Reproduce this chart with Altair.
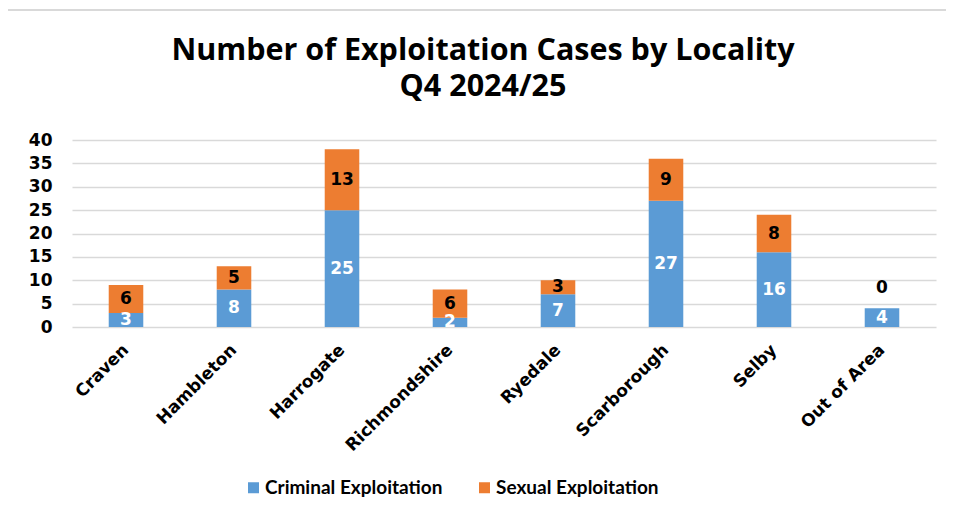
import altair as alt
import pandas as pd

localities = ["Craven", "Hambleton", "Harrogate", "Richmondshire", "Ryedale",
              "Scarborough", "Selby", "Out of Area"]
series_names = ["Criminal Exploitation", "Sexual Exploitation"]
criminal = [3, 8, 25, 2, 7, 27, 16, 4]
sexual = [6, 5, 13, 6, 3, 9, 8, 0]
colors = ["#5B9BD5", "#ED7D31"]
y_ticks = [0, 5, 10, 15, 20, 25, 30, 35, 40]

rows = []
for i, loc in enumerate(localities):
    rows.append({"locality": loc, "series": series_names[0], "value": criminal[i], "ord": 0})
    rows.append({"locality": loc, "series": series_names[1], "value": sexual[i], "ord": 1})
df = pd.DataFrame(rows)

x_axis = alt.Axis(labelAngle=-45, labelAlign="right", labelBaseline="middle",
                  labelFont="DejaVu Sans", labelFontWeight="bold", labelFontSize=17,
                  labelColor="#000000", labelPadding=20, ticks=False, domain=False,
                  labelOverlap=False, title=None)
y_axis = alt.Axis(values=y_ticks, labelFont="DejaVu Sans",
                  labelFontWeight="bold", labelFontSize=17, labelColor="#000000",
                  labelPadding=20, ticks=False, domain=False, labelOverlap=False,
                  gridColor="#d9d9d9", gridWidth=1.5, title=None)
x_scale = alt.Scale(paddingInner=0.68, paddingOuter=0.34)
y_scale = alt.Scale(domain=[0, 40])

bars = alt.Chart(df).mark_bar().encode(
    x=alt.X("locality:N", sort=localities, scale=x_scale, axis=x_axis),
    y=alt.Y("value:Q", stack="zero", scale=y_scale, axis=y_axis),
    color=alt.Color("series:N", scale=alt.Scale(domain=series_names, range=colors),
                    legend=alt.Legend(title=None, orient="none", direction="horizontal",
                                      legendX=172, legendY=338, symbolType="square",
                                      symbolSize=121, symbolStrokeWidth=0, labelFont="Lato",
                                      labelFontWeight="bold", labelFontSize=19,
                                      labelColor="#000000", columnPadding=32, labelOffset=2,
                                      labelLimit=300)),
    order=alt.Order("ord:Q", sort="ascending"),
)

stacked = alt.Chart(df).transform_stack(
    stack="value", groupby=["locality"], as_=["v0", "v1"],
    sort=[alt.SortField("ord", order="ascending")]
).transform_calculate(mid="(datum.v0 + datum.v1) / 2")

labels = stacked.transform_filter("datum.value > 0").mark_text(
    font="DejaVu Sans", fontWeight="bold", fontSize=17, baseline="middle"
).encode(
    x=alt.X("locality:N", sort=localities, scale=x_scale, axis=x_axis),
    y=alt.Y("mid:Q", scale=y_scale, axis=y_axis),
    text="value:Q",
    color=alt.condition("datum.ord == 0", alt.value("#ffffff"), alt.value("#000000")),
)

zero_labels = stacked.transform_filter("datum.value == 0").mark_text(
    font="DejaVu Sans", fontWeight="bold", fontSize=17, baseline="middle", dy=-20, color="#000000"
).encode(
    x=alt.X("locality:N", sort=localities, scale=x_scale, axis=x_axis),
    y=alt.Y("mid:Q", scale=y_scale, axis=y_axis),
    text="value:Q",
)

frame = alt.Chart(alt.Data(values=[{"a": 1}])).mark_rect(
    fill=None, stroke="#d9d9d9", strokeWidth=2
).encode(x=alt.value(-67), x2=alt.value(900), y=alt.value(-130), y2=alt.value(400))

chart = alt.layer(frame, bars, labels, zero_labels).properties(
    width=864, height=187,
    background="#ffffff",
    autosize=alt.AutoSizeParams(type="none"),
    padding={"left": 64, "top": 132, "right": 10, "bottom": 181},
    title=alt.TitleParams(["Number of Exploitation Cases by Locality", "Q4 2024/25"],
                          font="Open Sans", fontWeight="bold", fontSize=30.5, color="#000000",
                          anchor="middle", frame="group", dx=-21, offset=-93, lineHeight=36),
).configure_view(strokeWidth=0)

chart.save("out.html", embed_options={"renderer": "svg", "actions": False})
